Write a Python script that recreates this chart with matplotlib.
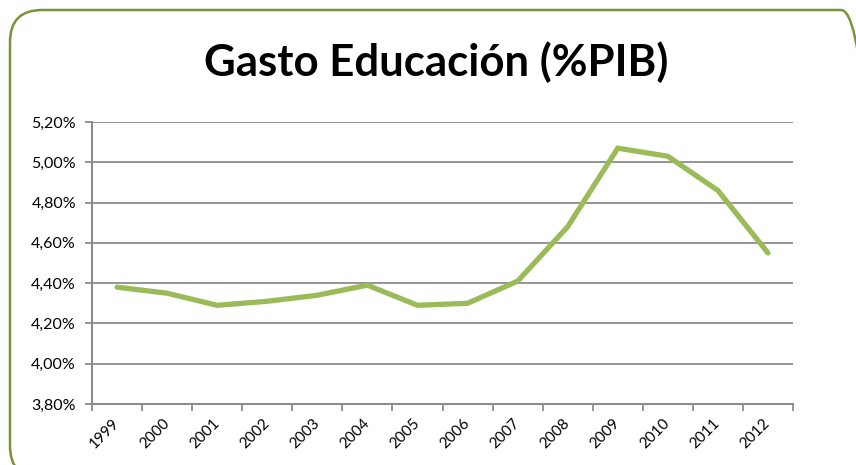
import matplotlib
matplotlib.use("Agg")
import matplotlib.pyplot as plt
from matplotlib.patches import FancyBboxPatch
from matplotlib.ticker import FixedLocator, FuncFormatter

years = ["1999", "2000", "2001", "2002", "2003", "2004", "2005",
         "2006", "2007", "2008", "2009", "2010", "2011", "2012"]
gasto = [4.38, 4.35, 4.29, 4.31, 4.34, 4.39, 4.29,
         4.30, 4.41, 4.68, 5.07, 5.03, 4.86, 4.55]
yticks = [3.80, 4.00, 4.20, 4.40, 4.60, 4.80, 5.00, 5.20]
title = "Gasto Educación (%PIB)"

plt.rcParams['font.family'] = ['Lato', 'DejaVu Sans']

W, H = 856, 465
fig = plt.figure(figsize=(W / 100, H / 100), dpi=100)
fig.patch.set_facecolor("white")

# rounded border (inches)
border = FancyBboxPatch((0.10, -0.13), 8.63, 4.68,
                        boxstyle="round,pad=0,rounding_size=0.32",
                        transform=fig.dpi_scale_trans, facecolor="none",
                        edgecolor="#77933C", linewidth=1.8, clip_on=False)
fig.patches.append(border)

ax = fig.add_axes([92 / W, 1 - 404 / H, (793 - 92) / W, (404 - 122) / H])
x = [i + 0.5 for i in range(len(years))]
ax.plot(x, gasto, color="#9BBB59", linewidth=3.8, solid_capstyle="round",
        solid_joinstyle="miter", zorder=3)

ax.set_xlim(0, len(years))
ax.set_ylim(yticks[0], yticks[-1])
ax.set_yticks(yticks)
ax.yaxis.set_major_formatter(FuncFormatter(lambda v, p: f"{v:.2f}%".replace(".", ",")))
ax.grid(axis="y", color="#8C8C8C", linewidth=1.3)
ax.set_axisbelow(True)

ax.xaxis.set_major_locator(FixedLocator(range(len(years) + 1)))
ax.xaxis.set_major_formatter(FuncFormatter(lambda v, p: ""))
ax.xaxis.set_minor_locator(FixedLocator(x))
ax.set_xticklabels(years, minor=True, rotation=45, ha="right", va="center",
                   rotation_mode="anchor")
ax.tick_params(axis="x", which="minor", length=0, labelsize=11, pad=12.5)
ax.tick_params(axis="x", which="major", length=5, width=1.3, color="#8C8C8C")
ax.tick_params(axis="y", length=5, width=1.3, color="#8C8C8C", labelsize=11.5, pad=6.5)

for s in ["top", "right"]:
    ax.spines[s].set_visible(False)
for s in ["left", "bottom"]:
    ax.spines[s].set_color("#8C8C8C")
    ax.spines[s].set_linewidth(1.5)

fig.text(436.5 / W, 1 - 62 / H, title, ha="center", va="center",
         fontsize=31.5, fontweight="bold", color="black")

fig.savefig("out.png", dpi=100)
